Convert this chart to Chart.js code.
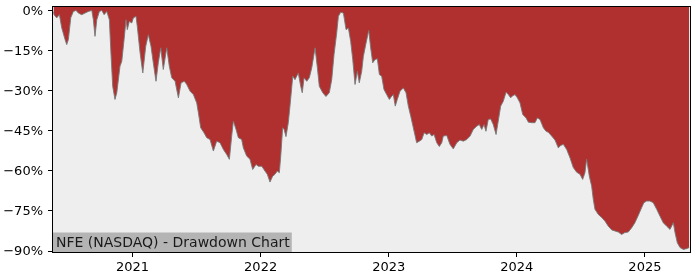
<!DOCTYPE html>
<html lang="en">
<head>
    <meta charset="UTF-8">
    <title>NFE (NASDAQ) - Drawdown Chart</title>
    <script src="https://cdn.jsdelivr.net/npm/chart.js"></script>
    <style>
        html, body { margin: 0; padding: 0; background: #fff; }
        #wrap { width: 700px; height: 280px; position: relative; }
    </style>
</head>
<body>
    <div id="wrap"><canvas id="ddChart"></canvas></div>

    <script>
        // decimal years
        const dates = [
            2020.383, 2020.387, 2020.408, 2020.429, 2020.447, 2020.473, 2020.486, 2020.499, 2020.518, 2020.538,
            2020.559, 2020.577, 2020.603, 2020.629, 2020.655, 2020.682, 2020.694, 2020.707, 2020.721, 2020.741,
            2020.760, 2020.778, 2020.799, 2020.819, 2020.830, 2020.845, 2020.863, 2020.877, 2020.902, 2020.916,
            2020.934, 2020.949, 2020.959, 2020.975, 2020.994, 2021.006, 2021.027, 2021.037, 2021.059, 2021.080,
            2021.103, 2021.123, 2021.144, 2021.162, 2021.183, 2021.201, 2021.220, 2021.240, 2021.267, 2021.287,
            2021.306, 2021.332, 2021.358, 2021.379, 2021.404, 2021.423, 2021.449, 2021.475, 2021.501, 2021.514,
            2021.532, 2021.558, 2021.579, 2021.605, 2021.631, 2021.657, 2021.683, 2021.709, 2021.735, 2021.756,
            2021.774, 2021.787, 2021.808, 2021.826, 2021.852, 2021.865, 2021.891, 2021.917, 2021.938, 2021.964,
            2021.982, 2022.009, 2022.034, 2022.052, 2022.073, 2022.094, 2022.112, 2022.130, 2022.146, 2022.157,
            2022.172, 2022.183, 2022.198, 2022.216, 2022.229, 2022.251, 2022.268, 2022.294, 2022.313, 2022.325,
            2022.339, 2022.360, 2022.380, 2022.399, 2022.425, 2022.443, 2022.458, 2022.485, 2022.510, 2022.536,
            2022.555, 2022.573, 2022.594, 2022.607, 2022.625, 2022.646, 2022.667, 2022.685, 2022.703, 2022.719,
            2022.737, 2022.755, 2022.770, 2022.789, 2022.802, 2022.823, 2022.844, 2022.859, 2022.875, 2022.893,
            2022.911, 2022.927, 2022.945, 2022.963, 2022.984, 2023.005, 2023.023, 2023.036, 2023.051, 2023.067,
            2023.088, 2023.114, 2023.135, 2023.153, 2023.172, 2023.192, 2023.218, 2023.239, 2023.258, 2023.276,
            2023.297, 2023.317, 2023.336, 2023.354, 2023.375, 2023.395, 2023.414, 2023.426, 2023.453, 2023.478,
            2023.504, 2023.531, 2023.556, 2023.582, 2023.609, 2023.635, 2023.660, 2023.687, 2023.707, 2023.726,
            2023.744, 2023.759, 2023.777, 2023.796, 2023.816, 2023.838, 2023.855, 2023.874, 2023.894, 2023.916,
            2023.934, 2023.952, 2023.968, 2023.986, 2024.004, 2024.025, 2024.046, 2024.072, 2024.090, 2024.116,
            2024.142, 2024.160, 2024.181, 2024.207, 2024.228, 2024.246, 2024.272, 2024.298, 2024.324, 2024.343,
            2024.363, 2024.389, 2024.415, 2024.441, 2024.467, 2024.493, 2024.514, 2024.532, 2024.545, 2024.566,
            2024.584, 2024.597, 2024.610, 2024.636, 2024.663, 2024.688, 2024.714, 2024.741, 2024.766, 2024.792,
            2024.818, 2024.844, 2024.870, 2024.897, 2024.922, 2024.948, 2024.974, 2024.992, 2025.014, 2025.039,
            2025.065, 2025.092, 2025.117, 2025.143, 2025.170, 2025.196, 2025.222, 2025.235, 2025.253, 2025.274,
            2025.300, 2025.326, 2025.346
        ];

        // drawdown in %
        const drawdown = [
            -0.5, -1.6, -2.8, -1.6, -6.5, -10.9, -12.8, -10.9, -2.7, -0.4,
            0, -1.0, -1.6, -1.0, -0.4, 0, -3.5, -9.7, -3.5, -0.4,
            0, -1.6, -0.4, -3.5, -14.7, -28.4, -33.3, -30.8, -20.9, -19.0,
            -10.9, -3.5, -7.2, -4.1, -4.7, -2.8, -2.2, -6.0, -15.9, -23.4,
            -13.4, -9.1, -13.4, -19.6, -26.5, -19.6, -14.0, -22.1, -14.0, -20.9,
            -25.2, -26.5, -32.7, -27.1, -26.5, -27.7, -30.2, -31.5, -34.6, -38.3,
            -43.9, -45.8, -47.6, -48.3, -52.6, -48.9, -49.5, -52.0, -53.9, -55.7,
            -47.0, -41.4, -44.5, -47.6, -48.3, -51.4, -54.5, -55.7, -59.5, -57.6,
            -58.3, -58.3, -60.1, -61.3, -64.2, -62.0, -61.3, -60.1, -60.7, -54.5,
            -43.9, -44.5, -47.2, -42.0, -35.8, -24.6, -25.9, -23.4, -28.4, -30.8,
            -25.2, -26.5, -25.2, -21.5, -14.0, -21.5, -28.4, -30.8, -32.2, -30.8,
            -25.9, -16.5, -8.4, -2.2, -0.7, -1.0, -7.2, -6.6, -11.6, -18.4,
            -27.7, -22.8, -27.1, -22.8, -17.2, -12.2, -7.5, -14.0, -19.6, -18.4,
            -18.1, -24.0, -24.6, -29.6, -31.5, -33.3, -32.1, -31.5, -35.8, -33.3,
            -30.2, -29.0, -30.8, -35.8, -39.6, -43.9, -49.5, -48.9, -48.3, -45.8,
            -46.4, -45.8, -47.0, -46.4, -49.5, -50.9, -49.5, -47.0, -46.8, -50.1,
            -51.8, -49.5, -48.5, -48.9, -48.3, -47.0, -44.5, -43.3, -42.7, -44.5,
            -42.7, -45.2, -40.8, -40.6, -42.7, -46.4, -41.4, -35.8, -34.0, -30.6,
            -31.5, -32.7, -31.9, -31.5, -32.7, -34.6, -38.9, -40.2, -41.8, -42.0,
            -42.0, -40.2, -40.8, -43.9, -45.2, -45.6, -47.0, -48.5, -51.4, -50.5,
            -50.1, -52.0, -55.1, -58.8, -60.5, -61.3, -63.2, -60.7, -55.7, -62.0,
            -65.7, -70.7, -74.4, -76.3, -77.5, -78.8, -80.7, -82.1, -82.5, -82.9,
            -83.8, -83.1, -82.9, -81.3, -79.4, -76.7, -73.8, -71.9, -71.3, -71.3,
            -71.9, -74.4, -76.9, -79.4, -80.7, -81.9, -79.4, -83.1, -86.9, -88.7,
            -89.4, -89.1, -88.7
        ];

        const yearTicks = [2021, 2022, 2023, 2024, 2025];
        const pctTicks = [0, -15, -30, -45, -60, -75, -90];
        const title = "NFE (NASDAQ) - Drawdown Chart";

        const FONT = "'DejaVu Sans', sans-serif";

        const frame = {
            id: "frame",
            beforeDraw(chart) {
                const a = chart.chartArea, ctx = chart.ctx;
                ctx.save();
                ctx.fillStyle = "#eeeeee";
                ctx.fillRect(a.left, a.top, a.right - a.left, a.bottom - a.top);
                ctx.restore();
            },
            afterDraw(chart) {
                const a = chart.chartArea, ctx = chart.ctx;
                ctx.save();
                // title box
                ctx.font = "14px " + FONT;
                const w = ctx.measureText(title).width;
                ctx.fillStyle = "#b4b4b4";
                ctx.fillRect(a.left, a.bottom - 19.5, w + 5, 19.5);
                ctx.fillStyle = "#1a1a1a";
                ctx.textBaseline = "alphabetic";
                ctx.fillText(title, a.left + 3, a.bottom - 5);
                // axes box
                ctx.strokeStyle = "#000";
                ctx.lineWidth = 1;
                ctx.strokeRect(Math.round(a.left) - 0.5, Math.round(a.top) - 0.5,
                    Math.round(a.right - a.left) + 1, Math.round(a.bottom - a.top) + 1);
                ctx.restore();
            }
        };

        new Chart(document.getElementById("ddChart"), {
            type: "line",
            data: {
                datasets: [{
                    data: dates.map((d, i) => ({ x: d, y: drawdown[i] })),
                    borderColor: "rgba(120,120,120,0.9)",
                    borderWidth: 1,
                    backgroundColor: "#b03030",
                    fill: "end",
                    pointRadius: 0,
                    tension: 0
                }]
            },
            options: {
                responsive: true,
                maintainAspectRatio: false,
                animation: false,
                layout: { padding: { left: 0, right: 10, top: 7, bottom: 0 } },
                plugins: { legend: { display: false }, tooltip: { enabled: false } },
                scales: {
                    x: {
                        type: "linear",
                        min: 2020.379,
                        max: 2025.352,
                        afterBuildTicks: s => { s.ticks = yearTicks.map(v => ({ value: v })); },
                        afterFit: s => { s.height = 28; s.paddingLeft = 0; s.paddingRight = 0; },
                        grid: { drawOnChartArea: false, drawTicks: true, tickLength: 5, color: "#000" },
                        border: { display: false },
                        ticks: {
                            callback: v => String(v),
                            color: "#000",
                            padding: 3,
                            maxRotation: 0,
                            font: { family: FONT, size: 13 }
                        }
                    },
                    y: {
                        min: -90.36,
                        max: 1.27,
                        afterBuildTicks: s => { s.ticks = pctTicks.map(v => ({ value: v })); },
                        afterFit: s => { s.width = 53; s.paddingTop = 0; s.paddingBottom = 0; },
                        grid: { drawOnChartArea: false, drawTicks: true, tickLength: 5, color: "#000" },
                        border: { display: false },
                        ticks: {
                            callback: v => (v < 0 ? "\u2212" : "") + Math.abs(v) + "%",
                            color: "#000",
                            padding: 5,
                            labelOffset: 1,
                            font: { family: FONT, size: 13 }
                        }
                    }
                }
            },
            plugins: [frame]
        });
    </script>
</body>
</html>
